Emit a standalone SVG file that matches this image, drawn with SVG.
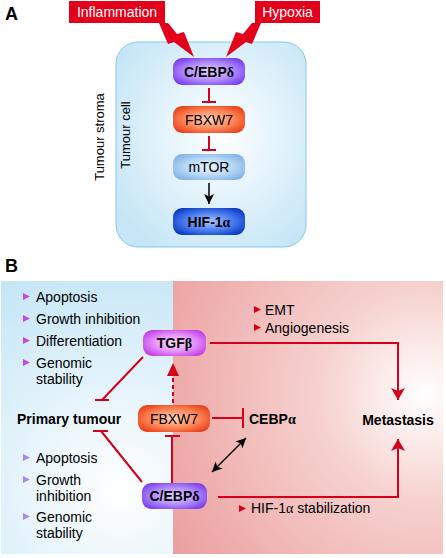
<svg xmlns="http://www.w3.org/2000/svg" width="446" height="558" viewBox="0 0 446 558">
<defs>
<style>
.lbl{font-family:"Liberation Sans",Arial,sans-serif;font-weight:bold;font-size:18px;fill:#000}
.t{font-family:"Liberation Sans",Arial,sans-serif;font-size:14px;fill:#000}
.tb{font-family:"Liberation Sans",Arial,sans-serif;font-size:14px;font-weight:bold;fill:#000}
.ts{font-family:"Liberation Sans",Arial,sans-serif;font-size:13px;fill:#000}
.tw{font-family:"Liberation Sans",Arial,sans-serif;font-size:14px;fill:#fff}
.gr{font-family:"Liberation Serif","Times New Roman",serif}
.red{stroke:#d7001b;stroke-width:2;fill:none}
.blk{stroke:#000;stroke-width:1.5;fill:none}
</style>
<radialGradient id="gPur" cx="50%" cy="50%" r="60%"><stop offset="0" stop-color="#e4d4ff"/><stop offset="0.55" stop-color="#b28cff"/><stop offset="1" stop-color="#7a40ec"/></radialGradient>
<radialGradient id="gOra" cx="50%" cy="50%" r="60%"><stop offset="0" stop-color="#ffd3c0"/><stop offset="0.55" stop-color="#ff8a5c"/><stop offset="1" stop-color="#e8431a"/></radialGradient>
<radialGradient id="gLb" cx="50%" cy="50%" r="60%"><stop offset="0" stop-color="#e8f4fe"/><stop offset="0.55" stop-color="#b8d8f6"/><stop offset="1" stop-color="#82b4e6"/></radialGradient>
<radialGradient id="gDb" cx="50%" cy="50%" r="60%"><stop offset="0" stop-color="#a9c6ff"/><stop offset="0.55" stop-color="#4a7ef0"/><stop offset="1" stop-color="#0c3cc4"/></radialGradient>
<radialGradient id="gMag" cx="50%" cy="50%" r="60%"><stop offset="0" stop-color="#fbe0ff"/><stop offset="0.55" stop-color="#e591fb"/><stop offset="1" stop-color="#c13ee6"/></radialGradient>
<radialGradient id="gCell" cx="55%" cy="45%" r="65%"><stop offset="0" stop-color="#ffffff"/><stop offset="1" stop-color="#c6e6f7"/></radialGradient>
<radialGradient id="gLeft" gradientUnits="userSpaceOnUse" cx="120" cy="490" r="240"><stop offset="0" stop-color="#ffffff"/><stop offset="1" stop-color="#c4e5f6"/></radialGradient>
<radialGradient id="gRight" gradientUnits="userSpaceOnUse" cx="425" cy="395" r="300"><stop offset="0" stop-color="#ffffff"/><stop offset="0.35" stop-color="#f6d2cf"/><stop offset="1" stop-color="#eb9e9e"/></radialGradient>
<marker id="ahR" viewBox="0 0 12 14" refX="12" refY="7" markerWidth="12" markerHeight="14" markerUnits="userSpaceOnUse" orient="auto"><path d="M0,0 L12,7 L0,14 L3,7 Z" fill="#d7001b"/></marker>
<marker id="ahB" viewBox="0 0 10 10" refX="10" refY="5" markerWidth="10" markerHeight="10" markerUnits="userSpaceOnUse" orient="auto-start-reverse"><path d="M0,0 L10,5 L0,10 L2.5,5 Z" fill="#000"/></marker>
<polygon id="bolt" points="159,23 168,23 177,34 184,32 194,57 174,42 168,44" fill="#e2001a"/>
</defs>

<rect width="446" height="558" fill="#fff"/>

<!-- Panel A -->
<text class="lbl" x="5" y="20">A</text>
<g id="inflammation"><rect x="69" y="1" width="96" height="22" fill="#e2001a"/><text class="tw" x="117" y="17" text-anchor="middle">Inflammation</text></g>
<g id="hypoxia"><rect x="255" y="1" width="65" height="22" fill="#e2001a"/><text class="tw" x="287.5" y="17" text-anchor="middle">Hypoxia</text></g>
<g id="cell"><rect x="116" y="42" width="190" height="205" rx="22" fill="url(#gCell)" stroke="#86c8ea" stroke-width="1"/></g>
<g id="bolts"><use href="#bolt"/><use href="#bolt" transform="translate(420,0) scale(-1,1)"/></g>
<text class="ts" transform="translate(104,137) rotate(-90)" text-anchor="middle">Tumour stroma</text>
<text class="ts" transform="translate(130,135) rotate(-90)" text-anchor="middle">Tumour cell</text>

<g id="a-cebpd"><rect x="173" y="58" width="72" height="27" rx="9" fill="url(#gPur)"/><text class="tb" x="209" y="77" text-anchor="middle">C/EBP<tspan class="gr">δ</tspan></text></g>
<g id="a-fbxw7"><rect x="173" y="106" width="72" height="27" rx="9" fill="url(#gOra)"/><text class="t" x="209" y="125" text-anchor="middle">FBXW7</text></g>
<g id="a-mtor"><rect x="173" y="154" width="72" height="26" rx="9" fill="url(#gLb)"/><text class="t" x="209" y="172" text-anchor="middle">mTOR</text></g>
<g id="a-hif"><rect x="173" y="208" width="72" height="27" rx="9" fill="url(#gDb)"/><text class="tb" x="209" y="227" text-anchor="middle">HIF-1<tspan class="gr">α</tspan></text></g>

<g id="a-connectors">
<path class="red" d="M209,88 V102 M202,102 H216"/>
<path class="red" d="M209,136 V150 M202,150 H216"/>
<path class="blk" d="M209,183 V204" marker-end="url(#ahB)"/>
</g>

<!-- Panel B -->
<text class="lbl" x="5" y="272">B</text>
<rect x="1" y="281" width="172" height="273" fill="url(#gLeft)"/>
<rect x="173" y="281" width="270" height="273" fill="url(#gRight)"/>

<g id="bullets-top">
<polygon points="23,293 30,296.5 23,300" fill="#c24ae6"/><text class="t" x="36" y="302">Apoptosis</text>
<polygon points="23,315 30,318.5 23,322" fill="#c24ae6"/><text class="t" x="36" y="324">Growth inhibition</text>
<polygon points="23,337 30,340.5 23,344" fill="#c24ae6"/><text class="t" x="36" y="346">Differentiation</text>
<polygon points="23,359 30,362.5 23,366" fill="#c24ae6"/><text class="t" x="36" y="368">Genomic</text><text class="t" x="36" y="384">stability</text>
</g>
<g id="bullets-bottom">
<polygon points="23,454 30,457.5 23,461" fill="#a88aec"/><text class="t" x="36" y="463">Apoptosis</text>
<polygon points="23,476 30,479.5 23,483" fill="#a88aec"/><text class="t" x="36" y="485">Growth</text><text class="t" x="36" y="501">inhibition</text>
<polygon points="23,513 30,516.5 23,520" fill="#a88aec"/><text class="t" x="36" y="522">Genomic</text><text class="t" x="36" y="538">stability</text>
</g>
<g id="bullets-right">
<polygon points="254,306 261,309.5 254,313" fill="#d7001b"/><text class="t" x="265" y="315">EMT</text>
<polygon points="254,324 261,327.5 254,331" fill="#d7001b"/><text class="t" x="265" y="333">Angiogenesis</text>
<polygon points="239,505 246,508.5 239,512" fill="#d7001b"/><text class="t" x="251" y="513">HIF-1<tspan class="gr">α</tspan> stabilization</text>
</g>

<g id="b-connectors">
<path class="red" d="M210,343 H398 V400" marker-end="url(#ahR)"/>
<path class="red" d="M218,497 H398 V439" marker-end="url(#ahR)"/>
<path class="red" d="M173,403 V378" stroke-dasharray="4,3"/>
<path d="M167,376 L173,363 L179,376 Z" fill="#d7001b"/>
<path class="red" d="M143,357 L102,400 M95,400 H109"/>
<path class="red" d="M142,482 L101,431 M93,431 H108"/>
<path class="red" d="M212,418 H243 M243,408 V428"/>
<path class="red" d="M172,483 V436 M165,436 H180"/>
<path class="blk" d="M212,472 L246,438" marker-start="url(#ahB)" marker-end="url(#ahB)"/>
</g>

<g id="b-tgfb"><rect x="143" y="330" width="63" height="26" rx="9" fill="url(#gMag)"/><text class="tb" x="174.5" y="348" text-anchor="middle">TGF<tspan class="gr">β</tspan></text></g>
<g id="b-fbxw7"><rect x="138" y="405" width="72" height="27" rx="9" fill="url(#gOra)"/><text class="t" x="174" y="424" text-anchor="middle">FBXW7</text></g>
<g id="b-cebpd"><rect x="142" y="483" width="65" height="26" rx="9" fill="url(#gPur)"/><text class="tb" x="174.5" y="501" text-anchor="middle">C/EBP<tspan class="gr">δ</tspan></text></g>
<g id="b-primary"><text class="tb" x="17" y="424">Primary tumour</text></g>
<g id="b-cebpa"><text class="tb" x="249" y="424">CEBP<tspan class="gr">α</tspan></text></g>
<g id="b-metastasis"><text class="tb" x="398" y="425" text-anchor="middle">Metastasis</text></g>
</svg>
